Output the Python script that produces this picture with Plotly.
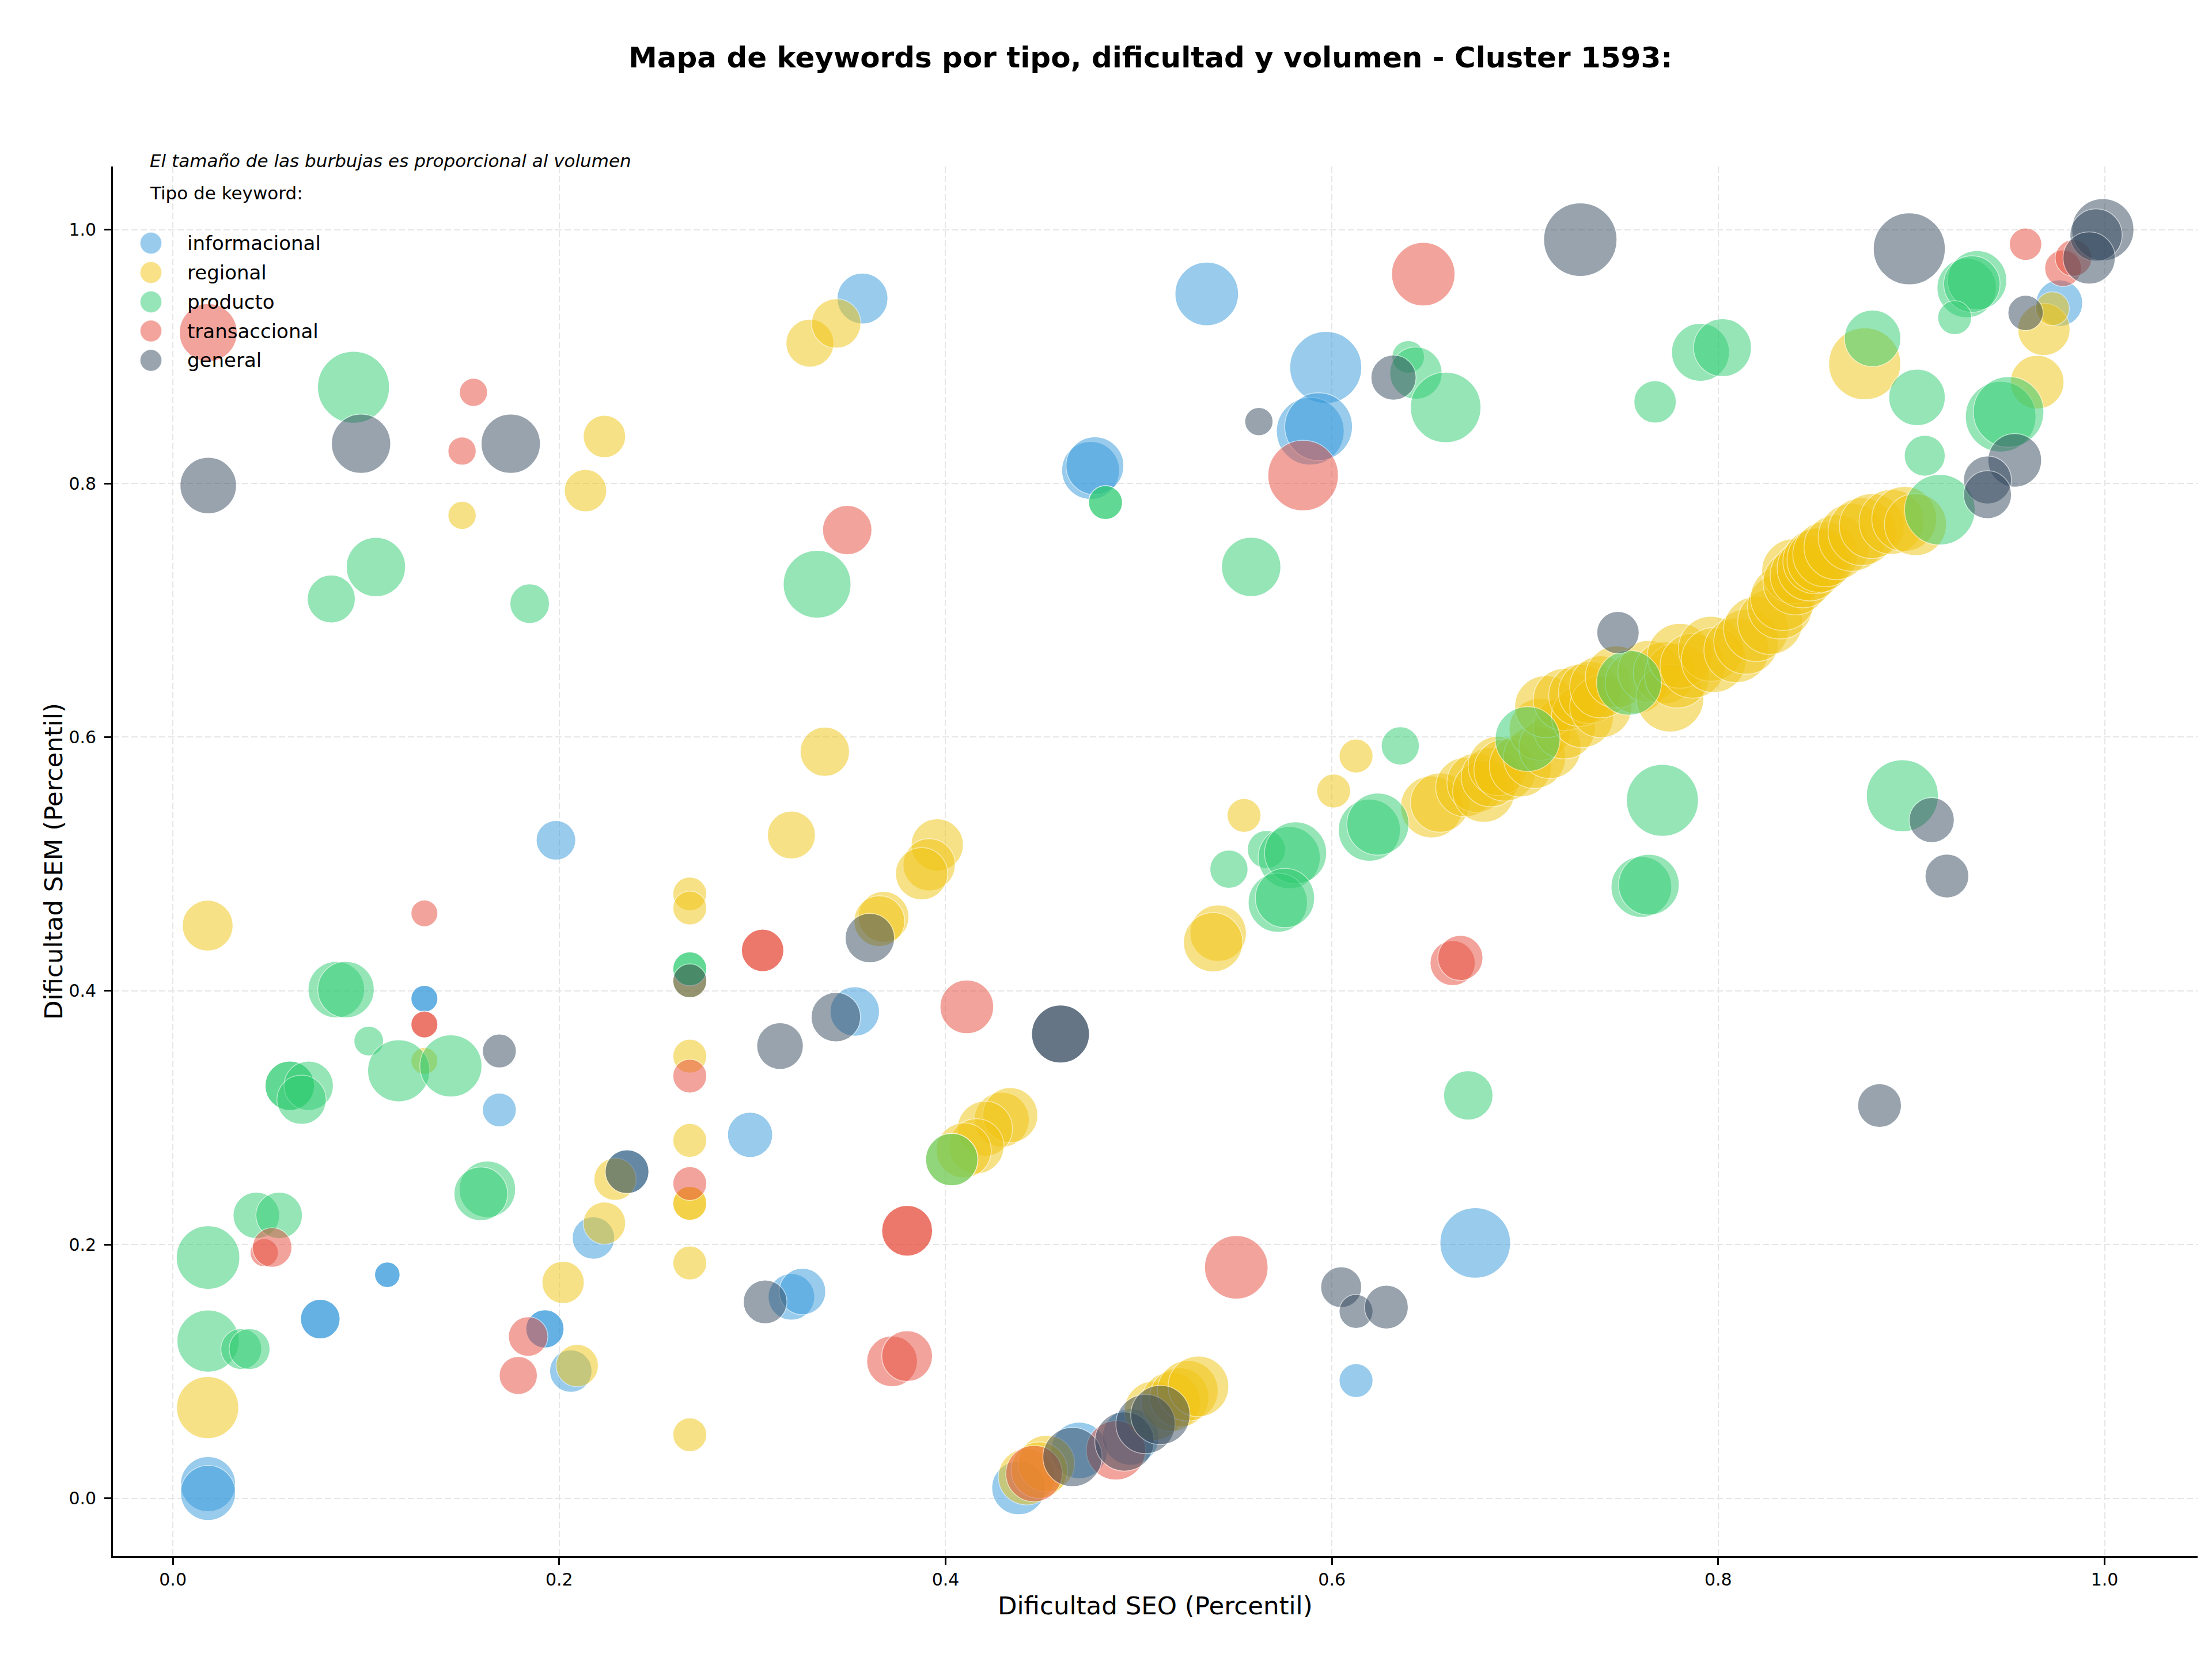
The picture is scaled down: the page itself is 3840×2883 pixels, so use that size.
import math
import plotly.graph_objects as go

# ---------------- data ----------------
tipos = ["informacional", "regional", "producto", "transaccional", "general"]
colores = {"informacional": (52, 152, 219), "regional": (241, 196, 15),
           "producto": (46, 204, 113), "transaccional": (231, 76, 60),
           "general": (52, 73, 94)}

x_informacional = [0.357, 0.5352, 0.5968, 0.5888, 0.5931, 0.4751, 0.4773, 0.6742, 0.6125, 0.9766,
                   0.1983, 0.1302, 0.1302, 0.169, 0.111, 0.111, 0.0763, 0.0763, 0.1926, 0.1926,
                   0.2177, 0.206, 0.0182, 0.0182, 0.2988, 0.3202, 0.3259, 0.353, 0.4378, 0.4692,
                   0.4958, 0.2351]
y_informacional = [0.9457, 0.9494, 0.8914, 0.8411, 0.8447, 0.8102, 0.8139, 0.2013, 0.0928, 0.9421,
                   0.5187, 0.3938, 0.3938, 0.3061, 0.1762, 0.1762, 0.1413, 0.1413, 0.1335, 0.1335,
                   0.2052, 0.1003, 0.0112, 0.0042, 0.2865, 0.1588, 0.163, 0.3837, 0.0082, 0.0378,
                   0.0483, 0.2575]
vol_informacional = [1296, 2025, 2601, 2304, 2304, 1681, 1681, 2500, 576, 1089,
                     784, 361, 361, 576, 324, 324, 784, 784, 729, 729,
                     900, 900, 1521, 1521, 1024, 1089, 1089, 1225, 1444, 1600,
                     1600, 961]

x_regional = [0.3298, 0.3434, 0.2234, 0.2136, 0.1497, 0.3375, 0.3202, 0.3957, 0.3915, 0.3876,
              0.3679, 0.3657, 0.2676, 0.2676, 0.2676, 0.2676, 0.2676, 0.2676, 0.2676, 0.2676,
              0.2676, 0.018, 0.018, 0.202, 0.2289, 0.2234, 0.2093, 0.1302, 0.4291, 0.4335,
              0.4204, 0.416, 0.4094, 0.4032, 0.4419, 0.4522, 0.4485, 0.5079, 0.5166, 0.521,
              0.5254, 0.5309, 0.5411, 0.5385, 0.5545, 0.6009, 0.6125, 0.8758, 0.9651, 0.9686,
              0.973,
              0.6516, 0.656, 0.6691, 0.6749, 0.6786, 0.6823, 0.6859, 0.6896, 0.6976, 0.7049,
              0.7078, 0.7129, 0.7203, 0.7107, 0.7203, 0.7297, 0.7283, 0.7334, 0.7392, 0.7392,
              0.7473, 0.7575, 0.7641, 0.7721, 0.775, 0.7787, 0.7801, 0.7867, 0.7962, 0.7977,
              0.8094, 0.8145, 0.8196, 0.8269, 0.832, 0.8335, 0.8393, 0.84, 0.8437, 0.8473,
              0.8503, 0.8524, 0.8554, 0.8612, 0.8693, 0.8744, 0.8795, 0.8897, 0.8963, 0.9021]
y_regional = [0.9105, 0.9261, 0.837, 0.7943, 0.7748, 0.5885, 0.5228, 0.515, 0.4994, 0.4923,
              0.4583, 0.4549, 0.4764, 0.4653, 0.4079, 0.3485, 0.2821, 0.2325, 0.2325, 0.1855,
              0.0501, 0.4514, 0.0715, 0.1702, 0.2515, 0.2169, 0.1046, 0.3448, 0.2984, 0.302,
              0.2914, 0.2775, 0.2742, 0.267, 0.017, 0.0274, 0.0222, 0.0691, 0.0761, 0.0795,
              0.0848, 0.0882, 0.4455, 0.4383, 0.5383, 0.5575, 0.5851, 0.8943, 0.8798, 0.9214,
              0.9377,
              0.545, 0.5484, 0.5606, 0.564, 0.5573, 0.5684, 0.5773, 0.574, 0.5773, 0.584,
              0.6062, 0.5918, 0.6073, 0.624, 0.6296, 0.6162, 0.6329, 0.6352, 0.624, 0.6396,
              0.6474, 0.6429, 0.6518, 0.6507, 0.6307, 0.6485, 0.6641, 0.6563, 0.6696, 0.6607,
              0.6685, 0.6752, 0.6852, 0.6908, 0.703, 0.7097, 0.7308, 0.7219, 0.7275, 0.733,
              0.7386, 0.7397, 0.7441, 0.7497, 0.7575, 0.762, 0.7664, 0.7697, 0.772, 0.7675]
vol_regional = [1156, 1225, 900, 900, 400, 1225, 1156, 1369, 1369, 1369,
                1296, 1296, 576, 576, 576, 576, 576, 576, 576, 576,
                576, 1296, 1936, 900, 900, 900, 900, 361, 1521, 1521,
                1521, 1521, 1521, 1369, 1600, 1600, 1600, 1764, 1764, 1764,
                1849, 1849, 1600, 1764, 576, 576, 576, 2601, 1444, 1369,
                576,
                1936, 1764, 1764, 1764, 1936, 1764, 1764, 1936, 1936, 1936,
                1936, 1936, 1936, 1936, 1936, 1936, 1936, 1936, 1936, 1936,
                1936, 1936, 1936, 1936, 2304, 2116, 2116, 2116, 2116, 2116,
                2116, 2116, 2116, 2116, 2116, 2116, 2116, 2116, 2116, 2116,
                2116, 2116, 2116, 2116, 2304, 2304, 2116, 2116, 2116, 1936]

x_producto = [0.0935, 0.1051, 0.082, 0.1847, 0.0846, 0.0896, 0.1014, 0.1169, 0.1439, 0.0605,
              0.0605, 0.0703, 0.0666, 0.1628, 0.1594, 0.0432, 0.055, 0.0182, 0.0182, 0.0354,
              0.0397, 0.2676, 0.2676, 0.3335, 0.5582, 0.4828, 0.4828, 0.6395, 0.6435, 0.6589,
              0.7908, 0.8022, 0.7673, 0.9286, 0.934, 0.9313, 0.9224, 0.8799, 0.9029, 0.9462,
              0.9503, 0.9069, 0.9147, 0.7711, 0.8953, 0.7602, 0.7641, 0.6706, 0.5467, 0.5661,
              0.5779, 0.5812, 0.572, 0.5757, 0.6354, 0.6194, 0.6238, 0.7013, 0.7538, 0.4032]
y_producto = [0.8758, 0.7341, 0.7089, 0.7052, 0.401, 0.401, 0.3604, 0.337, 0.3408, 0.3252,
              0.3252, 0.3252, 0.3142, 0.2436, 0.24, 0.223, 0.223, 0.1898, 0.124, 0.1177,
              0.1177, 0.4173, 0.4173, 0.7205, 0.7342, 0.7849, 0.7849, 0.8997, 0.887, 0.8599,
              0.9033, 0.907, 0.8643, 0.954, 0.9601, 0.9571, 0.9306, 0.9143, 0.8678, 0.8526,
              0.8563, 0.8218, 0.7792, 0.5502, 0.5538, 0.4819, 0.4837, 0.3176, 0.4959, 0.5114,
              0.505, 0.5087, 0.4696, 0.4732, 0.5931, 0.5267, 0.5314, 0.5985, 0.6429, 0.267]
vol_producto = [2601, 1764, 1156, 784, 1600, 1600, 441, 1936, 1936, 1225,
                1225, 1225, 1225, 1600, 1444, 1089, 1089, 2025, 1936, 841,
                841, 576, 576, 2304, 1764, 576, 576, 529, 1369, 2500,
                1681, 1681, 900, 1764, 1764, 1600, 576, 1600, 1600, 2500,
                2500, 841, 2500, 2601, 2601, 1849, 1849, 1225, 729, 729,
                1936, 1936, 1764, 1764, 729, 1936, 1936, 2116, 2116, 1369]

x_transaccional = [0.0183, 0.1556, 0.1497, 0.6473, 0.5851, 0.3491, 0.1302, 0.1302, 0.1302, 0.3053,
                   0.3053, 0.411, 0.2676, 0.2676, 0.3801, 0.3801, 0.0473, 0.0514, 0.1839, 0.1788,
                   0.3723, 0.3801, 0.5505, 0.6625, 0.6665, 0.9591, 0.9785, 0.9839, 0.4458, 0.4882]
y_transaccional = [0.9189, 0.8718, 0.8255, 0.9649, 0.8062, 0.7632, 0.4611, 0.3735, 0.3735, 0.4319,
                   0.4319, 0.3874, 0.3328, 0.2481, 0.2109, 0.2109, 0.1936, 0.1977, 0.1275, 0.0968,
                   0.108, 0.1121, 0.1821, 0.4219, 0.426, 0.9885, 0.9696, 0.9777, 0.0195, 0.0378]
vol_transaccional = [1681, 400, 400, 2025, 2500, 1225, 361, 361, 361, 900,
                     900, 1444, 576, 576, 1296, 1296, 400, 784, 784, 729,
                     1296, 1296, 2025, 1024, 1024, 529, 676, 676, 1600, 1764]

x_general = [0.0183, 0.0974, 0.1749, 0.169, 0.3608, 0.3432, 0.3143, 0.3066, 0.4595, 0.4595,
             0.2351, 0.2676, 0.4657, 0.4926, 0.5035, 0.5112, 0.6048, 0.6125, 0.6282, 0.5622,
             0.6319, 0.7286, 0.8989, 0.9991, 0.9956, 0.992, 0.9591, 0.9535, 0.9394, 0.9394,
             0.7481, 0.9105, 0.9184, 0.8835]
y_general = [0.7983, 0.8313, 0.8313, 0.3526, 0.4416, 0.3793, 0.3565, 0.1548, 0.366, 0.366,
             0.2575, 0.4079, 0.0326, 0.0448, 0.0586, 0.0657, 0.1664, 0.1473, 0.1507, 0.8487,
             0.8834, 0.9921, 0.9849, 1.0, 0.9958, 0.9777, 0.9344, 0.8182, 0.8027, 0.7911,
             0.6824, 0.5346, 0.4905, 0.3096]
vol_general = [1600, 1764, 1764, 576, 1225, 1225, 1089, 961, 1681, 1681,
               961, 576, 1764, 1764, 1764, 1764, 841, 576, 961, 400,
               1024, 2704, 2601, 1936, 1369, 1369, 625, 1444, 1156, 1156,
               900, 1024, 961, 961]

datos = {
    "informacional": (x_informacional, y_informacional, vol_informacional),
    "regional": (x_regional, y_regional, vol_regional),
    "producto": (x_producto, y_producto, vol_producto),
    "transaccional": (x_transaccional, y_transaccional, vol_transaccional),
    "general": (x_general, y_general, vol_general),
}
for k, (a, b, c) in datos.items():
    assert len(a) == len(b) == len(c), (k, len(a), len(b), len(c))

titulo = "Mapa de keywords por tipo, dificultad y volumen - Cluster 1593:"
subtitulo = "El tamaño de las burbujas es proporcional al volumen"
titulo_leyenda = "Tipo de keyword:"
etiqueta_x = "Dificultad SEO (Percentil)"
etiqueta_y = "Dificultad SEM (Percentil)"
ticks = [0.0, 0.2, 0.4, 0.6, 0.8, 1.0]

# ---------------- style ----------------
FONT = "DejaVu Sans"
PX_PER_SQRT_VOL = 2.449
W, H = 3840, 2883
ML, MR, MT, MB = 196, 25, 289, 182
PW, PH = W - ML - MR, H - MT - MB


def rgba(c, a):
    return "rgba(%d,%d,%d,%s)" % (c[0], c[1], c[2], a)


def px_to_paper_x(px):
    return (px - ML) / PW


def px_to_paper_y(py):
    return (H - MB - py) / PH


fig = go.Figure()
for t in tipos:
    xs, ys, vs = datos[t]
    fig.add_trace(go.Scatter(
        x=xs, y=ys, mode="markers", name=t, showlegend=False,
        marker=dict(size=[PX_PER_SQRT_VOL * math.sqrt(v) for v in vs],
                    sizemode="diameter",
                    color=rgba(colores[t], 1), opacity=0.5,
                    line=dict(color="white", width=1.5)),
        hovertemplate=t + "<br>SEO %{x}<br>SEM %{y}<extra></extra>",
    ))

allx = sum((datos[t][0] for t in tipos), [])
ally = sum((datos[t][1] for t in tipos), [])
sx = max(allx) - min(allx)
sy = max(ally) - min(ally)
xr = [min(allx) - 0.05 * sx, max(allx) + 0.05 * sx]
yr = [min(ally) - 0.05 * sy, max(ally) + 0.05 * sy]

axis_common = dict(
    tickvals=ticks, ticktext=["%.1f" % v for v in ticks],
    showgrid=True, gridcolor="#e6e6e6", gridwidth=2, griddash="11px,5px",
    showline=True, linecolor="black", linewidth=2.7, mirror=False,
    ticks="outside", ticklen=12, tickwidth=2.7, tickcolor="black",
    tickfont=dict(family=FONT, size=30, color="black"),
    zeroline=False,
)
fig.update_xaxes(range=xr, **axis_common)
fig.update_yaxes(range=yr, ticklabelstandoff=8, **axis_common)

annotations = [
    dict(text="<b>" + titulo + "</b>", xref="paper", yref="paper", x=0.4976,
         y=px_to_paper_y(100), xanchor="center", yanchor="middle", showarrow=False,
         font=dict(family=FONT, size=50, color="black")),
    dict(text="<i>" + subtitulo + "</i>", xref="paper", yref="paper",
         x=px_to_paper_x(258), y=px_to_paper_y(279), xanchor="left", yanchor="middle",
         showarrow=False, font=dict(family=FONT, size=31, color="black")),
    dict(text=titulo_leyenda, xref="paper", yref="paper",
         x=px_to_paper_x(258), y=px_to_paper_y(335), xanchor="left", yanchor="middle",
         showarrow=False, font=dict(family=FONT, size=31, color="black")),
    dict(text=etiqueta_x, xref="paper", yref="paper", x=0.5, y=px_to_paper_y(2787),
         xanchor="center", yanchor="middle", showarrow=False,
         font=dict(family=FONT, size=43.5, color="black")),
    dict(text=etiqueta_y, xref="paper", yref="paper", x=px_to_paper_x(93), y=0.5,
         xanchor="center", yanchor="middle", textangle=-90, showarrow=False,
         font=dict(family=FONT, size=43.5, color="black")),
]
shapes = []
leg_y = [422, 473, 524, 574.5, 625.5]
for t, py in zip(tipos, leg_y):
    annotations.append(dict(text=t, xref="paper", yref="paper", x=px_to_paper_x(323),
                            y=px_to_paper_y(py), xanchor="left", yanchor="middle",
                            showarrow=False, font=dict(family=FONT, size=34, color="black")))
    r = 18.7
    shapes.append(dict(type="circle", xref="paper", yref="paper",
                       xsizemode="pixel", ysizemode="pixel",
                       xanchor=px_to_paper_x(262), yanchor=px_to_paper_y(py),
                       x0=-r, x1=r, y0=-r, y1=r,
                       fillcolor=rgba(colores[t], 0.5),
                       line=dict(color="rgba(255,255,255,0.5)", width=1.5)))

fig.update_layout(
    width=W, height=H,
    margin=dict(l=ML, r=MR, t=MT, b=MB, pad=0),
    plot_bgcolor="white", paper_bgcolor="white",
    showlegend=False,
    annotations=annotations, shapes=shapes,
    font=dict(family=FONT, color="black"),
)

fig.write_html("out.html")
